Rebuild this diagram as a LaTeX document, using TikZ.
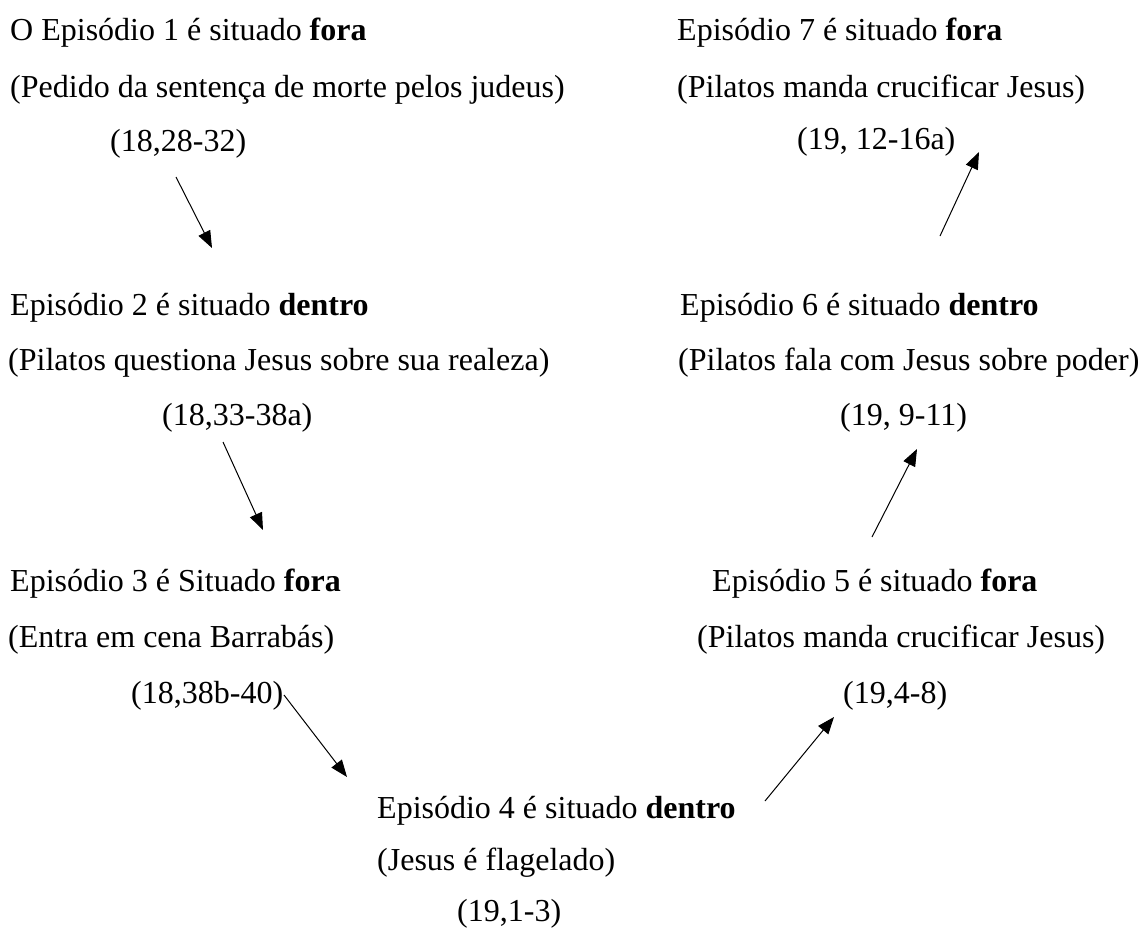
\documentclass[tikz,border=0pt]{standalone}
\usepackage{fontspec}
\setmainfont{Liberation Serif}
\usetikzlibrary{arrows.meta}
\begin{document}
\begin{tikzpicture}[x=1pt, y=-1pt,
    txt/.style={anchor=base west, inner sep=0pt, font=\fontsize{32}{38}\selectfont},
    seta/.style={-{Triangle[length=17pt,width=13pt]}, line width=1pt}]
    \useasboundingbox (0,0) rectangle (1143,927);

    % left side
    \node[txt] (e1) at (10,40) {O Episódio 1 é situado \textbf{fora}};
    \node[txt] (t1) at (10,97) {(Pedido da sentença de morte pelos judeus)};
    \node[txt] (r1) at (110,151) {(18,28-32)};

    \node[txt] (e2) at (10,315) {Episódio 2 é situado \textbf{dentro}};
    \node[txt] (t2) at (8,370) {(Pilatos questiona Jesus sobre sua realeza)};
    \node[txt] (r2) at (162,425) {(18,33-38a)};

    \node[txt] (e3) at (10,591) {Episódio 3 é Situado \textbf{fora}};
    \node[txt] (t3) at (8,647) {(Entra em cena Barrabás)};
    \node[txt] (r3) at (131,703) {(18,38b-40)};

    % bottom
    \node[txt] (e4) at (377,818) {Episódio 4 é situado \textbf{dentro}};
    \node[txt] (t4) at (377,870) {(Jesus é flagelado)};
    \node[txt] (r4) at (457,921) {(19,1-3)};

    % right side
    \node[txt] (e5) at (712,591) {Episódio 5 é situado \textbf{fora}};
    \node[txt] (t5) at (697,647) {(Pilatos manda crucificar Jesus)};
    \node[txt] (r5) at (843,703) {(19,4-8)};

    \node[txt] (e6) at (680,315) {Episódio 6 é situado \textbf{dentro}};
    \node[txt] (t6) at (678,370) {(Pilatos fala com Jesus sobre poder)};
    \node[txt] (r6) at (840,425) {(19, 9-11)};

    \node[txt] (e7) at (677,40) {Episódio 7 é situado \textbf{fora}};
    \node[txt] (t7) at (677,97) {(Pilatos manda crucificar Jesus)};
    \node[txt] (r7) at (797,149) {(19, 12-16a)};

    % arrow ends
    \coordinate (a1) at (176,177);  \coordinate (b1) at (212,248);
    \coordinate (a2) at (223,442);  \coordinate (b2) at (263,530);
    \coordinate (a3) at (284,695);  \coordinate (b3) at (347,777);
    \coordinate (a4) at (765,801);  \coordinate (b4) at (834,717);
    \coordinate (a5) at (872,537);  \coordinate (b5) at (917,449);
    \coordinate (a6) at (940,236);  \coordinate (b6) at (979,152);

    \draw[seta] (a1) -- (b1);
    \draw[seta] (a2) -- (b2);
    \draw[seta] (a3) -- (b3);
    \draw[seta] (a4) -- (b4);
    \draw[seta] (a5) -- (b5);
    \draw[seta] (a6) -- (b6);
\end{tikzpicture}
\end{document}
